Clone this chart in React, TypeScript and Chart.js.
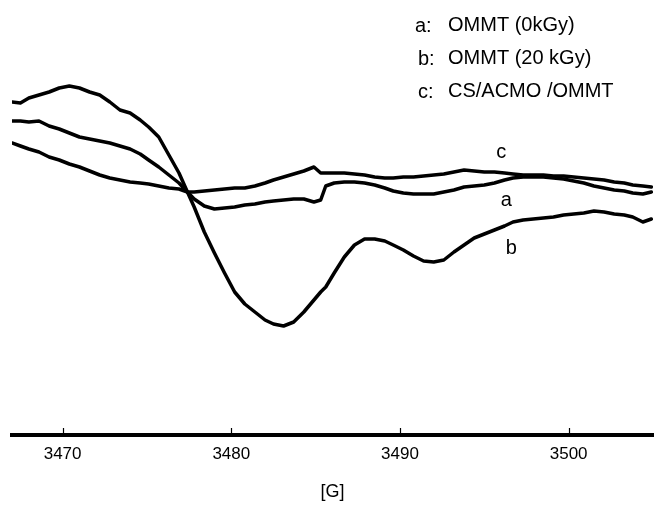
import React, { useEffect, useRef } from "react";
import { Chart, registerables } from "chart.js";

Chart.register(...registerables);

// Magnetic field [G]
const fieldG = [3467.0, 3467.5, 3468.0, 3468.6, 3469.2, 3469.8, 3470.4, 3471.0, 3471.6, 3472.2, 3472.8, 3473.4, 3474.0, 3474.6, 3475.1, 3475.7, 3476.3, 3476.9, 3477.4, 3477.8, 3478.4, 3479.0, 3479.6, 3480.2, 3480.8, 3481.4, 3482.0, 3482.5, 3483.1, 3483.7, 3484.3, 3484.9, 3485.3, 3485.6, 3486.1, 3486.7, 3487.3, 3487.9, 3488.5, 3489.1, 3489.6, 3490.2, 3490.8, 3491.4, 3492.0, 3492.6, 3493.2, 3493.8, 3494.4, 3495.0, 3495.6, 3496.2, 3496.7, 3497.3, 3497.9, 3498.5, 3499.1, 3499.7, 3500.3, 3500.9, 3501.5, 3502.1, 3502.7, 3503.3, 3503.8, 3504.4, 3504.9];

// a: OMMT (0kGy)
const signalA = [71, 71, 70, 71, 66, 63, 59, 55, 53, 51, 49, 46, 43, 38, 32, 25, 17, 9, 0, -7, -14, -17, -16, -15, -13, -12, -10, -9, -8, -7, -7, -10, -8, 6, 9, 10, 10, 9, 7, 4, 1, -1, -2, -2, -2, 0, 2, 5, 6, 7, 9, 12, 14, 15, 15, 15, 14, 13, 11, 9, 6, 4, 2, 1, -1, -2, 0];

// b: OMMT (20 kGy)
const signalB = [90, 89, 94, 97, 100, 104, 106, 104, 100, 97, 90, 82, 79, 72, 65, 55, 37, 19, 0, -15, -40, -61, -81, -100, -112, -120, -128, -132, -134, -130, -120, -108, -100, -95, -81, -65, -53, -47, -47, -49, -53, -58, -64, -69, -70, -68, -60, -53, -46, -42, -38, -34, -30, -28, -27, -26, -25, -23, -22, -21, -19, -20, -22, -23, -25, -30, -27];

// c: CS/ACMO /OMMT
const signalC = [49, 46, 43, 40, 35, 32, 28, 25, 21, 17, 14, 12, 10, 9, 8, 6, 4, 3, 0, 0, 1, 2, 3, 4, 4, 6, 9, 12, 15, 18, 21, 25, 19, 19, 19, 19, 18, 17, 15, 14, 14, 15, 15, 16, 17, 18, 20, 22, 21, 20, 20, 19, 18, 17, 17, 17, 16, 16, 15, 14, 13, 12, 10, 9, 7, 6, 5];

const tickValues = [3470, 3480, 3490, 3500];
const legendKeys = ["a:", "b:", "c:"];
const legendNames = ["OMMT (0kGy)", "OMMT (20 kGy)", "CS/ACMO /OMMT"];
const curveLabels = ["a", "b", "c"];
// anchor of each curve label in data coordinates [field, signal]
const curveLabelField = [3496.3, 3496.6, 3496.0];
const curveLabelSignal = [-8, -56, 40];
const xTitle = "[G]";

const FONT = '"Liberation Sans", Arial, Helvetica, sans-serif';

const overlayPlugin = {
  id: "overlay",
  afterDraw(chart: any) {
    const ctx = chart.ctx;
    const xs = chart.scales.x;
    const ys = chart.scales.y;
    const bottom = chart.chartArea.bottom;
    ctx.save();
    // inward tick marks
    ctx.strokeStyle = "#000";
    ctx.lineWidth = 1.2;
    tickValues.forEach((v) => {
      const px = Math.round(xs.getPixelForValue(v)) + 0.5;
      ctx.beginPath();
      ctx.moveTo(px, bottom - 7);
      ctx.lineTo(px, bottom);
      ctx.stroke();
    });
    // legend text
    ctx.fillStyle = "#000";
    ctx.textBaseline = "alphabetic";
    ctx.textAlign = "left";
    ctx.font = `20px ${FONT}`;
    const keyX = [415, 418, 418];
    const keyY = [32, 65, 98];
    const nameY = [30.5, 64, 97];
    legendKeys.forEach((k, i) => {
      ctx.fillText(k, keyX[i], keyY[i]);
      ctx.fillText(legendNames[i], 448, nameY[i]);
    });
    // curve labels
    ctx.textAlign = "center";
    ctx.textBaseline = "middle";
    curveLabels.forEach((t, i) => {
      const px = xs.getPixelForValue(curveLabelField[i]);
      const py = ys.getPixelForValue(curveLabelSignal[i]);
      ctx.fillText(t, px, py);
    });
    ctx.restore();
  },
};

export default function App() {
  const ref = useRef<HTMLCanvasElement | null>(null);
  useEffect(() => {
    if (!ref.current) return;
    const mk = (vals: number[]) => fieldG.map((x, i) => ({ x, y: vals[i] }));
    const line = { borderColor: "#000", borderWidth: 3.5, pointRadius: 0, fill: false, tension: 0, borderJoinStyle: "round" as const, borderCapStyle: "round" as const };
    const chart = new Chart(ref.current, {
      type: "line",
      data: {
        datasets: [
          { label: legendNames[0], data: mk(signalA), ...line },
          { label: legendNames[1], data: mk(signalB), ...line },
          { label: legendNames[2], data: mk(signalC), ...line },
        ],
      },
      options: {
        responsive: false,
        animation: false,
        layout: { padding: { left: 12, right: 2, top: 0, bottom: 0 } },
        plugins: { legend: { display: false }, tooltip: { enabled: false }, title: { display: false } },
        scales: {
          x: {
            type: "linear",
            min: 3467,
            max: 3505,
            afterBuildTicks: (scale: any) => {
              scale.ticks = tickValues.map((v) => ({ value: v }));
            },
            afterFit: (scale: any) => {
              scale.height = 70;
            },
            grid: { display: false, drawTicks: false },
            border: { display: true, color: "#000", width: 4 },
            ticks: { color: "#000", padding: 9, font: { family: FONT, size: 17 }, callback: (v: any) => String(v) },
            title: { display: true, text: xTitle, color: "#000", font: { family: FONT, size: 18 }, padding: { top: 0, bottom: 2 } },
          },
          y: {
            type: "linear",
            display: false,
            min: -243,
            max: 192,
          },
        },
      },
      plugins: [overlayPlugin],
    });
    return () => chart.destroy();
  }, []);
  return (
    <div style={{ position: "fixed", left: 0, top: 0, width: 655, height: 505, background: "#fff" }}>
      <canvas ref={ref} width={655} height={505} style={{ display: "block" }} />
    </div>
  );
}
